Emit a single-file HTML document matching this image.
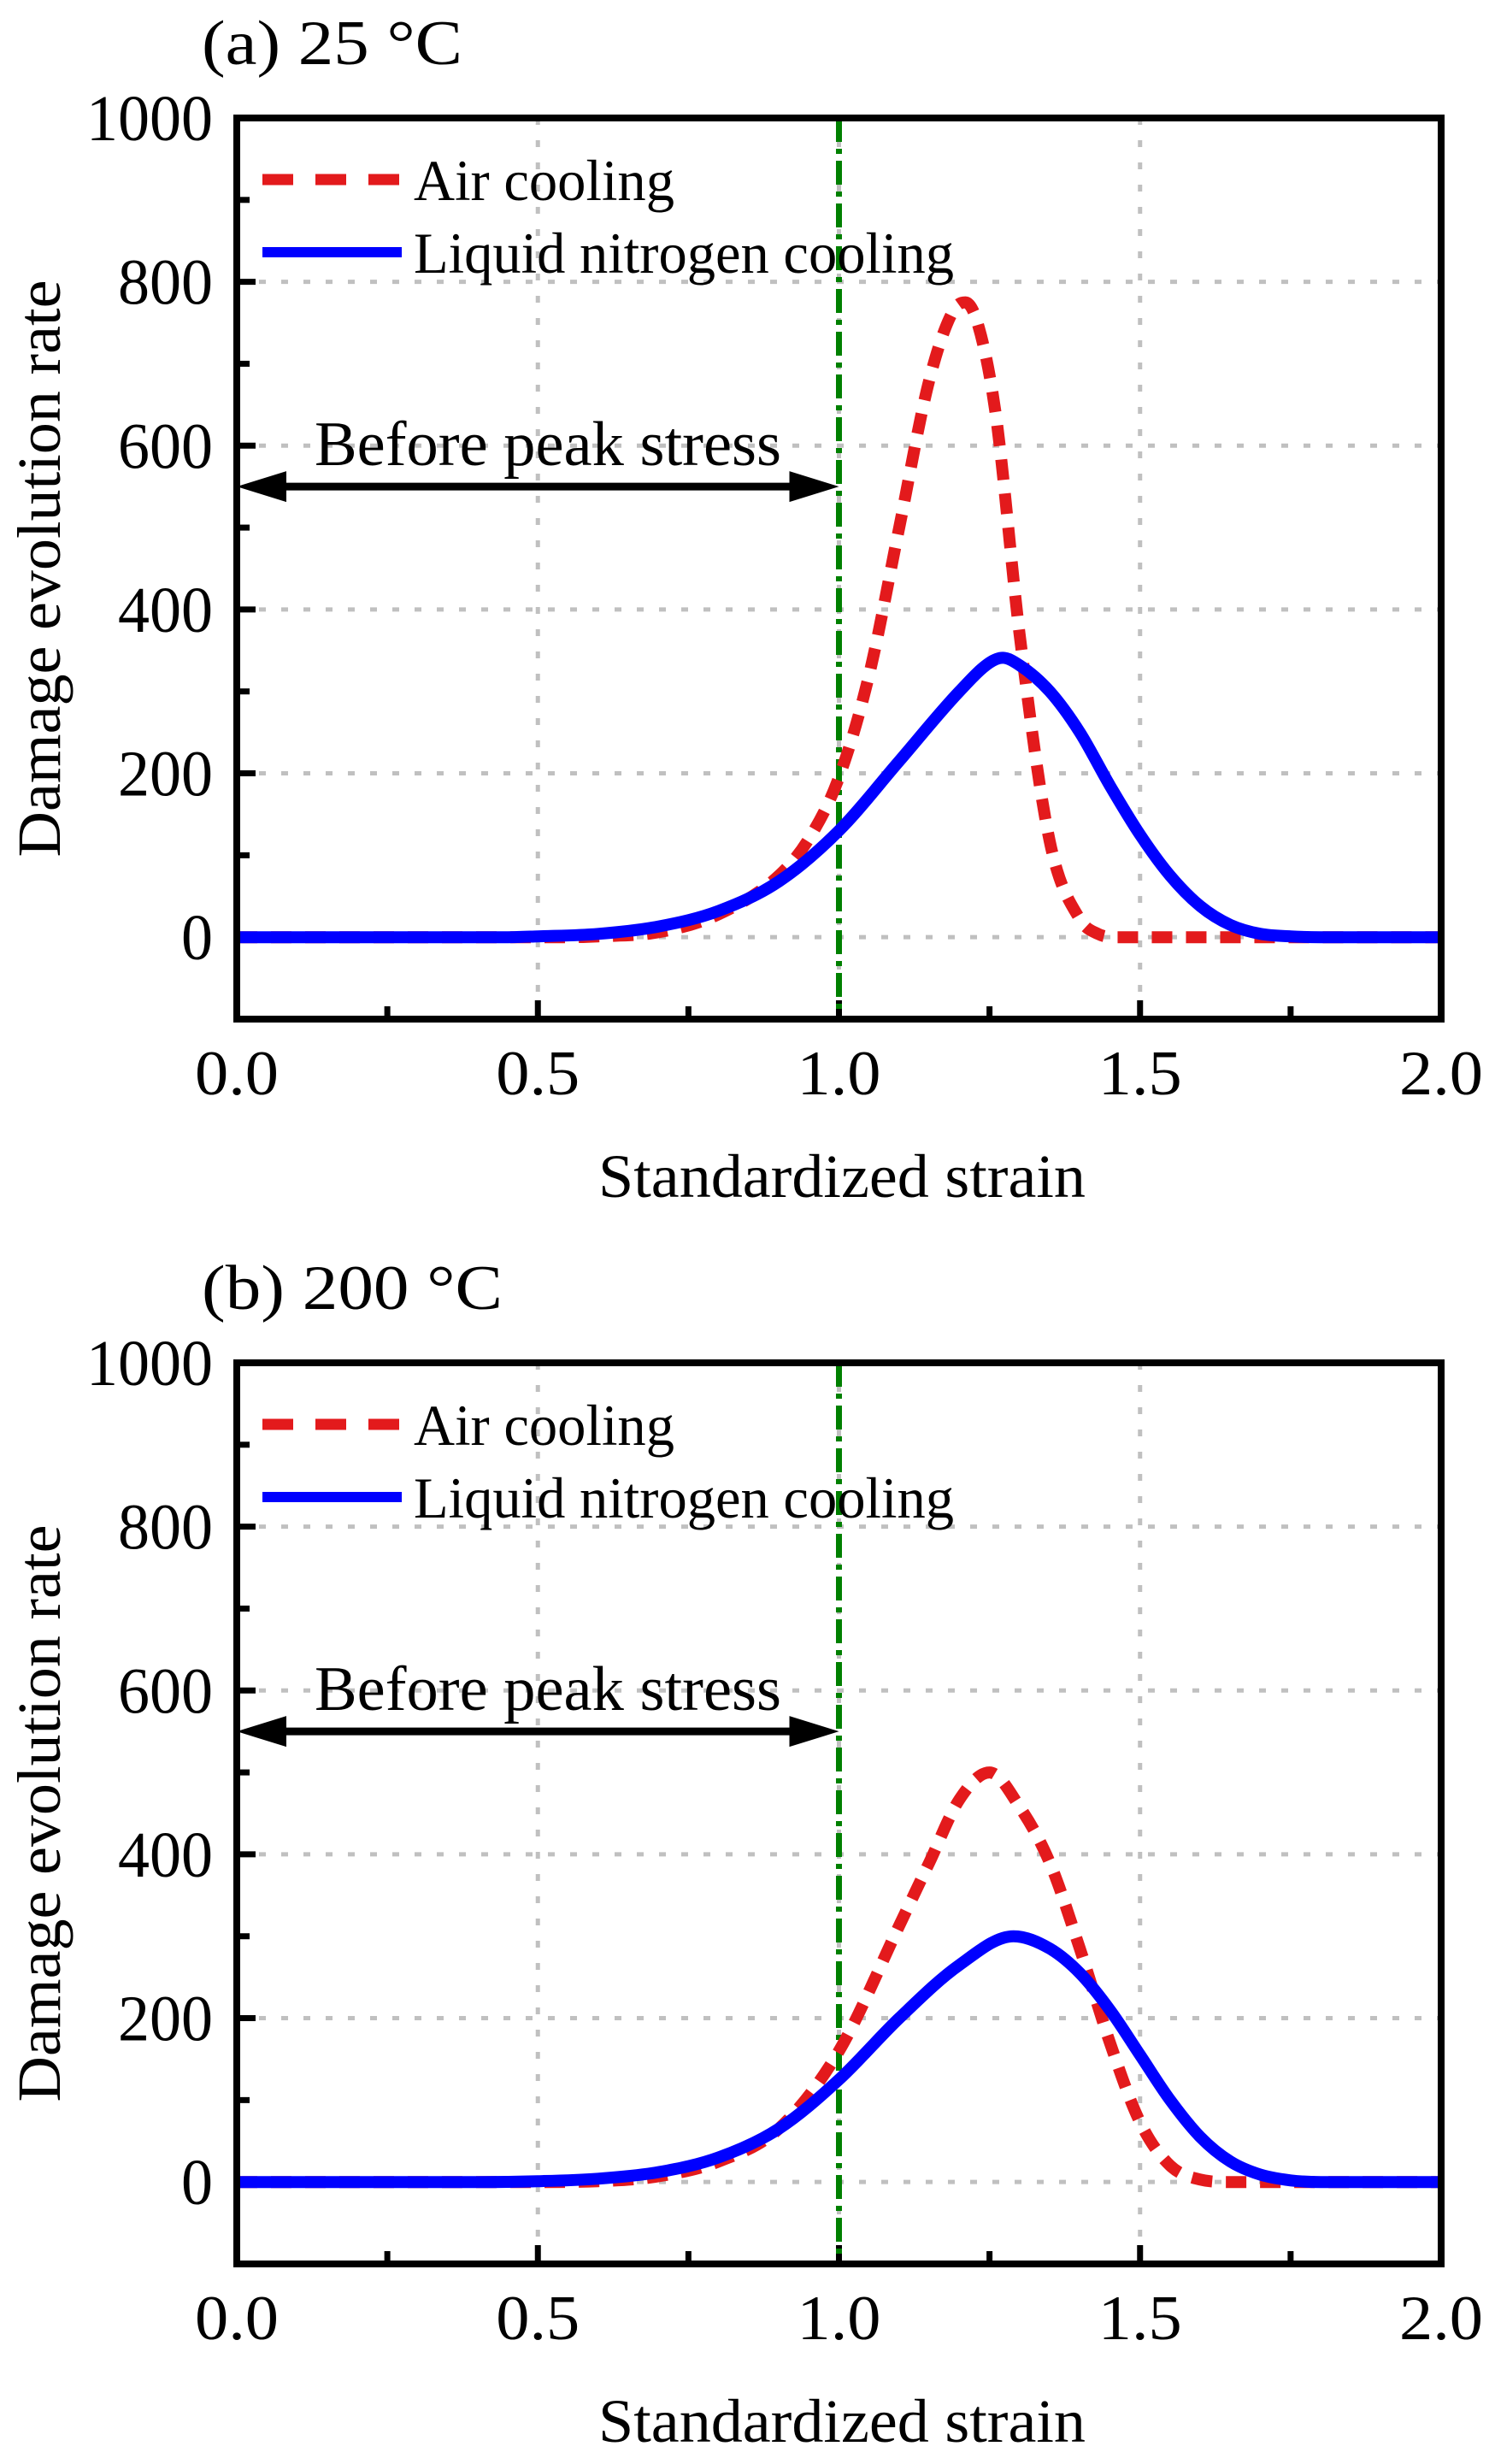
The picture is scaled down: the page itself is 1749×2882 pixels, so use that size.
<!DOCTYPE html>
<html><head><meta charset="utf-8"><style>
html,body{margin:0;padding:0;background:#fff;}
svg{display:block;font-family:"Liberation Serif",serif;}
</style></head><body>
<svg id="fig" width="1749" height="2882" viewBox="0 0 1749 2882" xmlns="http://www.w3.org/2000/svg"></svg>
<script>
const xTicks = [0, 0.5, 1.0, 1.5, 2.0];
const xTickLabels = ["0.0", "0.5", "1.0", "1.5", "2.0"];
const yTicks = [0, 200, 400, 600, 800, 1000];
const yTickLabels = ["0", "200", "400", "600", "800", "1000"];
const panelTitles = ["(a) 25 °C", "(b) 200 °C"];
const seriesNames = ["Air cooling", "Liquid nitrogen cooling"];
const peakStrain = 1.0;
const arrowValue = 550;

const airX_a = [0, 0.55, 0.6, 0.7, 0.8, 0.9, 0.95, 1.0, 1.05, 1.1, 1.15, 1.19, 1.21, 1.23, 1.26, 1.3, 1.35, 1.4, 1.43, 1.46, 2.0];
const airY_a = [0, 0, 1, 6, 28, 75, 120, 195, 320, 500, 680, 765, 775, 750, 640, 370, 117, 22, 4, 0, 0];
const lnX_a = [0, 0.45, 0.5, 0.6, 0.7, 0.8, 0.9, 1.0, 1.1, 1.2, 1.25, 1.272, 1.3, 1.35, 1.4, 1.45, 1.5, 1.55, 1.6, 1.65, 1.7, 1.75, 1.8, 2.0];
const lnY_a = [0, 0, 1, 4, 13, 32, 68, 130, 215, 300, 335, 341, 332, 300, 250, 185, 125, 75, 38, 15, 4, 1, 0, 0];

const airX_b = [0, 0.5, 0.6, 0.7, 0.8, 0.9, 1.0, 1.1, 1.15, 1.2, 1.25, 1.3, 1.35, 1.4, 1.45, 1.5, 1.55, 1.6, 1.65, 2.0];
const airY_b = [0, 0, 1, 7, 25, 65, 160, 313, 390, 467, 500, 458, 390, 285, 170, 73, 20, 3, 0, 0];
const lnX_b = [0, 0.4, 0.5, 0.6, 0.7, 0.8, 0.9, 1.0, 1.1, 1.2, 1.29, 1.35, 1.4, 1.45, 1.5, 1.55, 1.6, 1.65, 1.7, 1.75, 1.8, 2.0];
const lnY_b = [0, 0, 1, 4, 12, 30, 65, 125, 200, 265, 300, 285, 255, 210, 155, 100, 55, 25, 9, 2, 0, 0];

const NS = "http://www.w3.org/2000/svg";
const svg = document.getElementById('fig');
function mk(tag, attrs, parent) {
  const e = document.createElementNS(NS, tag);
  for (const k in attrs) e.setAttribute(k, attrs[k]);
  (parent || svg).appendChild(e);
  return e;
}
function monotonePath(px, py) {
  const n = px.length, d = [], m = [];
  for (let i = 0; i < n - 1; i++) d.push((py[i+1]-py[i])/(px[i+1]-px[i]));
  m.push(d[0]);
  for (let i = 1; i < n - 1; i++) m.push(d[i-1]*d[i] <= 0 ? 0 : (d[i-1]+d[i])/2);
  m.push(d[n-2]);
  for (let i = 0; i < n - 1; i++) {
    if (d[i] === 0) { m[i] = 0; m[i+1] = 0; continue; }
    const a = m[i]/d[i], b = m[i+1]/d[i], s = a*a + b*b;
    if (s > 9) { const t = 3/Math.sqrt(s); m[i] = t*a*d[i]; m[i+1] = t*b*d[i]; }
  }
  let p = "M" + px[0].toFixed(1) + "," + py[0].toFixed(1);
  for (let i = 0; i < n - 1; i++) {
    const h = (px[i+1]-px[i])/3;
    p += " C" + (px[i]+h).toFixed(1) + "," + (py[i]+m[i]*h).toFixed(1) + " " + (px[i+1]-h).toFixed(1) + "," + (py[i+1]-m[i+1]*h).toFixed(1) + " " + px[i+1].toFixed(1) + "," + py[i+1].toFixed(1);
  }
  return p;
}

function drawPanel(off, title, airX, airY, lnX, lnY, id) {
  const L = 277, R = 1686, T = 138 + off, B = 1192 + off;
  const X = v => L + (v - 0) / 2 * (R - L);
  const Y = v => B - (v + 100) / 1100 * (B - T);
  const g = mk('g', {});
  
  
  const ttl = mk('text', {x: 236, y: 75 + off, 'font-size': 74, textLength: (id === 'a' ? 305 : 352), lengthAdjust: 'spacingAndGlyphs'}, g);
  ttl.textContent = title;
  
  
  const grid = mk('g', {stroke: '#c0c0c0', 'stroke-width': 5, 'stroke-dasharray': '8,18', fill: 'none'}, g);
  
  
  [0.5, 1.0, 1.5].forEach(v => mk('line', {x1: X(v), x2: X(v), y1: T, y2: B}, grid));
  [0, 200, 400, 600, 800].forEach(v => mk('line', {x1: L, x2: R, y1: Y(v), y2: Y(v)}, grid));
  const tk = mk('g', {stroke: '#000', 'stroke-width': 7}, g);
  
  
  for (let v = 0.25; v < 2; v += 0.25) {
    const len = Math.abs(v*2 - Math.round(v*2)) < 1e-6 ? 22 : 15;
    mk('line', {x1: X(v), x2: X(v), y1: B, y2: B - len}, tk);
  }
  for (let v = 0; v < 1000; v += 100) {
    const len = v % 200 === 0 ? 22 : 15;
    mk('line', {x1: L, x2: L + len, y1: Y(v), y2: Y(v)}, tk);
  }
  xTicks.forEach((v, i) => {
    const t = mk('text', {x: X(v), y: B + 88, 'font-size': 74, 'text-anchor': 'middle', textLength: 98, lengthAdjust: 'spacingAndGlyphs'}, g);
    t.textContent = xTickLabels[i];
    
    
  });
  yTicks.forEach((v, i) => {
    const lab = yTickLabels[i];
    const t = mk('text', {x: 249, y: Y(v) + 26, 'font-size': 76, 'text-anchor': 'end', textLength: 37 * lab.length, lengthAdjust: 'spacingAndGlyphs'}, g);
    t.textContent = lab;
    
    
  });
  const xt = mk('text', {x: 985, y: B + 208, 'font-size': 72, 'text-anchor': 'middle', textLength: 570, lengthAdjust: 'spacingAndGlyphs'}, g);
  xt.textContent = 'Standardized strain';
  
  
  const cy = (T + B) / 2;
  const yt = mk('text', {x: 0, y: 0, 'font-size': 72, 'text-anchor': 'middle', textLength: 675, lengthAdjust: 'spacingAndGlyphs', transform: 'translate(70,' + cy + ') rotate(-90)'}, g);
  yt.textContent = 'Damage evolution rate';
  
  
  const pk = mk('line', {x1: X(peakStrain), x2: X(peakStrain), y1: T, y2: B, stroke: '#008000', 'stroke-width': 7, 'stroke-dasharray': '28,8,6,8'}, g);
  
  
  const ay = Y(arrowValue), ax0 = X(0), ax1 = X(peakStrain);
  const ar = mk('g', {fill: '#000', stroke: 'none'}, g);
  
  
  mk('line', {x1: ax0 + 40, x2: ax1 - 40, y1: ay, y2: ay, stroke: '#000', 'stroke-width': 9}, ar);
  mk('polygon', {points: ax0 + ',' + ay + ' ' + (ax0 + 58) + ',' + (ay - 18) + ' ' + (ax0 + 58) + ',' + (ay + 18)}, ar);
  mk('polygon', {points: ax1 + ',' + ay + ' ' + (ax1 - 58) + ',' + (ay - 18) + ' ' + (ax1 - 58) + ',' + (ay + 18)}, ar);
  const at = mk('text', {x: 368, y: ay - 25, 'font-size': 74, textLength: 546, lengthAdjust: 'spacingAndGlyphs'}, g);
  at.textContent = 'Before peak stress';
  
  
  const clip = mk('clipPath', {id: 'clip' + id}, g);
  mk('rect', {x: L, y: T, width: R - L, height: B - T}, clip);
  const air = mk('path', {d: monotonePath(airX.map(X), airY.map(Y)), fill: 'none', stroke: '#e31a1c', 'stroke-width': 14, 'stroke-dasharray': '24,16', 'clip-path': 'url(#clip' + id + ')'}, g);
  
  
  const ln = mk('path', {d: monotonePath(lnX.map(X), lnY.map(Y)), fill: 'none', stroke: '#0000ff', 'stroke-width': 14, 'clip-path': 'url(#clip' + id + ')'}, g);
  
  
  const fr = mk('rect', {x: L, y: T, width: R - L, height: B - T, fill: 'none', stroke: '#000', 'stroke-width': 8}, g);
  
  
  const lg = mk('g', {}, g);
  
  
  const ly1 = T + 72, ly2 = T + 157;
  mk('line', {x1: 307, x2: 470, y1: ly1, y2: ly1, stroke: '#e31a1c', 'stroke-width': 13, 'stroke-dasharray': '36,26'}, lg);
  mk('line', {x1: 307, x2: 470, y1: ly2, y2: ly2, stroke: '#0000ff', 'stroke-width': 12}, lg);
  const l1 = mk('text', {x: 484, y: ly1 + 24, 'font-size': 68, textLength: 305, lengthAdjust: 'spacingAndGlyphs'}, lg);
  l1.textContent = seriesNames[0];
  
  
  const l2 = mk('text', {x: 484, y: ly2 + 24, 'font-size': 68, textLength: 632, lengthAdjust: 'spacingAndGlyphs'}, lg);
  l2.textContent = seriesNames[1];
  
  
}
drawPanel(0, panelTitles[0], airX_a, airY_a, lnX_a, lnY_a, 'a');
drawPanel(1456, panelTitles[1], airX_b, airY_b, lnX_b, lnY_b, 'b');
</script>
</body></html>
